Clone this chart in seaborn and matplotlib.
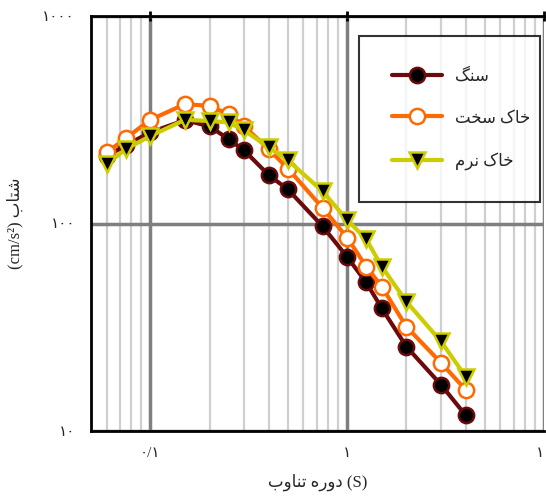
import matplotlib
matplotlib.use("Agg")
import matplotlib.pyplot as plt
import seaborn as sns
import pandas as pd
from matplotlib.ticker import FixedLocator, LogLocator, NullFormatter

# ---- data ----
period = [0.06, 0.075, 0.1, 0.15, 0.2, 0.25, 0.3, 0.4, 0.5, 0.75, 1.0, 1.25, 1.5, 2.0, 3.0, 4.0]
rock = [211, 238, 275, 315, 294, 255, 225, 171, 146, 97, 69, 52, 39, 25.5, 16.7, 11.9]
hard_soil = [220, 257, 316, 376, 369, 336, 294, 228, 184, 119, 85.5, 62, 49.6, 31.8, 21.3, 15.8]
soft_soil = [193, 228, 264, 316, 312, 307, 281, 233, 202, 143, 104, 84, 62, 42, 27, 18.3]

# Persian labels (pre-shaped presentation forms, visual order)
label_rock = "\uFB93\uFEE8\uFEB3"                                  # سنگ
label_hard = "\uFE96\uFEA8\uFEB3 \uFB8E\uFE8E\uFEA7"                # خاک سخت
label_soft = "\uFEE1\uFEAE\uFEE7 \uFB8E\uFE8E\uFEA7"                # خاک نرم
xlabel = "\uFE8F\uFEED\uFE8E\uFEE8\uFE97 \uFEE9\uFEAD\uFEED\uFEA9 (S)"  # دوره تناوب (S)
ylabel = "(cm/s\u00b2) \uFE8F\uFE8E\uFE98\uFEB7"                      # شتاب (cm/s²)
xtick_vals = [0.1, 1, 10]
xtick_labels = ["\u06F0/\u06F1", "\u06F1", "\u06F1\u06F0"]
ytick_vals = [10, 100, 1000]
ytick_labels = ["\u06F1\u06F0", "\u06F1\u06F0\u06F0", "\u06F1\u06F0\u06F0\u06F0"]

sns.set_style("white")
plt.rcParams["font.family"] = ["Liberation Serif", "DejaVu Sans"]

df_rock = pd.DataFrame({"T": period, "A": rock})
df_hard = pd.DataFrame({"T": period, "A": hard_soil})
df_soft = pd.DataFrame({"T": period, "A": soft_soil})

fig = plt.figure(figsize=(5.46, 4.96), dpi=100)
ax = fig.add_axes([91 / 546, 65 / 496, 453 / 546, 415 / 496])

ax.set_xscale("log")
ax.set_yscale("log")

sns.lineplot(data=df_rock, x="T", y="A", ax=ax, color="#6b0a0a", lw=3,
             marker="o", markersize=11, markerfacecolor="black",
             markeredgecolor="#6b0a0a", markeredgewidth=1.8, label=label_rock, zorder=3)
sns.lineplot(data=df_hard, x="T", y="A", ax=ax, color="#ff6a00", lw=3,
             marker="o", markersize=11, markerfacecolor="white",
             markeredgecolor="#ff6a00", markeredgewidth=1.8, label=label_hard, zorder=4)
sns.lineplot(data=df_soft, x="T", y="A", ax=ax, color="#cccc00", lw=3,
             marker="v", markersize=11, markerfacecolor="black",
             markeredgecolor="#cccc00", markeredgewidth=1.8, label=label_soft, zorder=5)

ax.set_xlim(0.05, 10)
ax.set_ylim(10, 1000)

ax.xaxis.set_major_locator(FixedLocator(xtick_vals))
ax.set_xticklabels(xtick_labels)
ax.xaxis.set_minor_locator(LogLocator(base=10, subs=range(2, 10), numticks=20))
ax.xaxis.set_minor_formatter(NullFormatter())
ax.yaxis.set_major_locator(FixedLocator(ytick_vals))
ax.set_yticklabels(ytick_labels)
ax.yaxis.set_minor_locator(FixedLocator([]))

ax.grid(which="minor", axis="x", color="#cfcfcf", lw=1.6, zorder=0)
ax.grid(which="major", axis="both", color="#7f7f7f", lw=2.5, zorder=1)
ax.set_axisbelow(True)

for s in ax.spines.values():
    s.set_color("black")
    s.set_linewidth(2)
ax.spines["right"].set_visible(False)

ax.tick_params(which="major", direction="inout", length=7, width=2, color="black",
               labelsize=11, top=True, right=False, pad=8)
ax.tick_params(which="minor", length=0)

ax.set_xlabel(xlabel, fontsize=12, labelpad=10)
ax.set_ylabel(ylabel, fontsize=12, labelpad=14)

leg = ax.legend(loc="upper left", bbox_to_anchor=(0.592, 0.952, 0.40, 0.0),
                mode="expand", frameon=True, fancybox=False, fontsize=12,
                handlelength=3.0, labelspacing=1.55, borderpad=1.95,
                handletextpad=0.8, borderaxespad=0)
leg.get_frame().set_edgecolor("black")
leg.get_frame().set_linewidth(1.5)

fig.savefig("out.png", dpi=100)
